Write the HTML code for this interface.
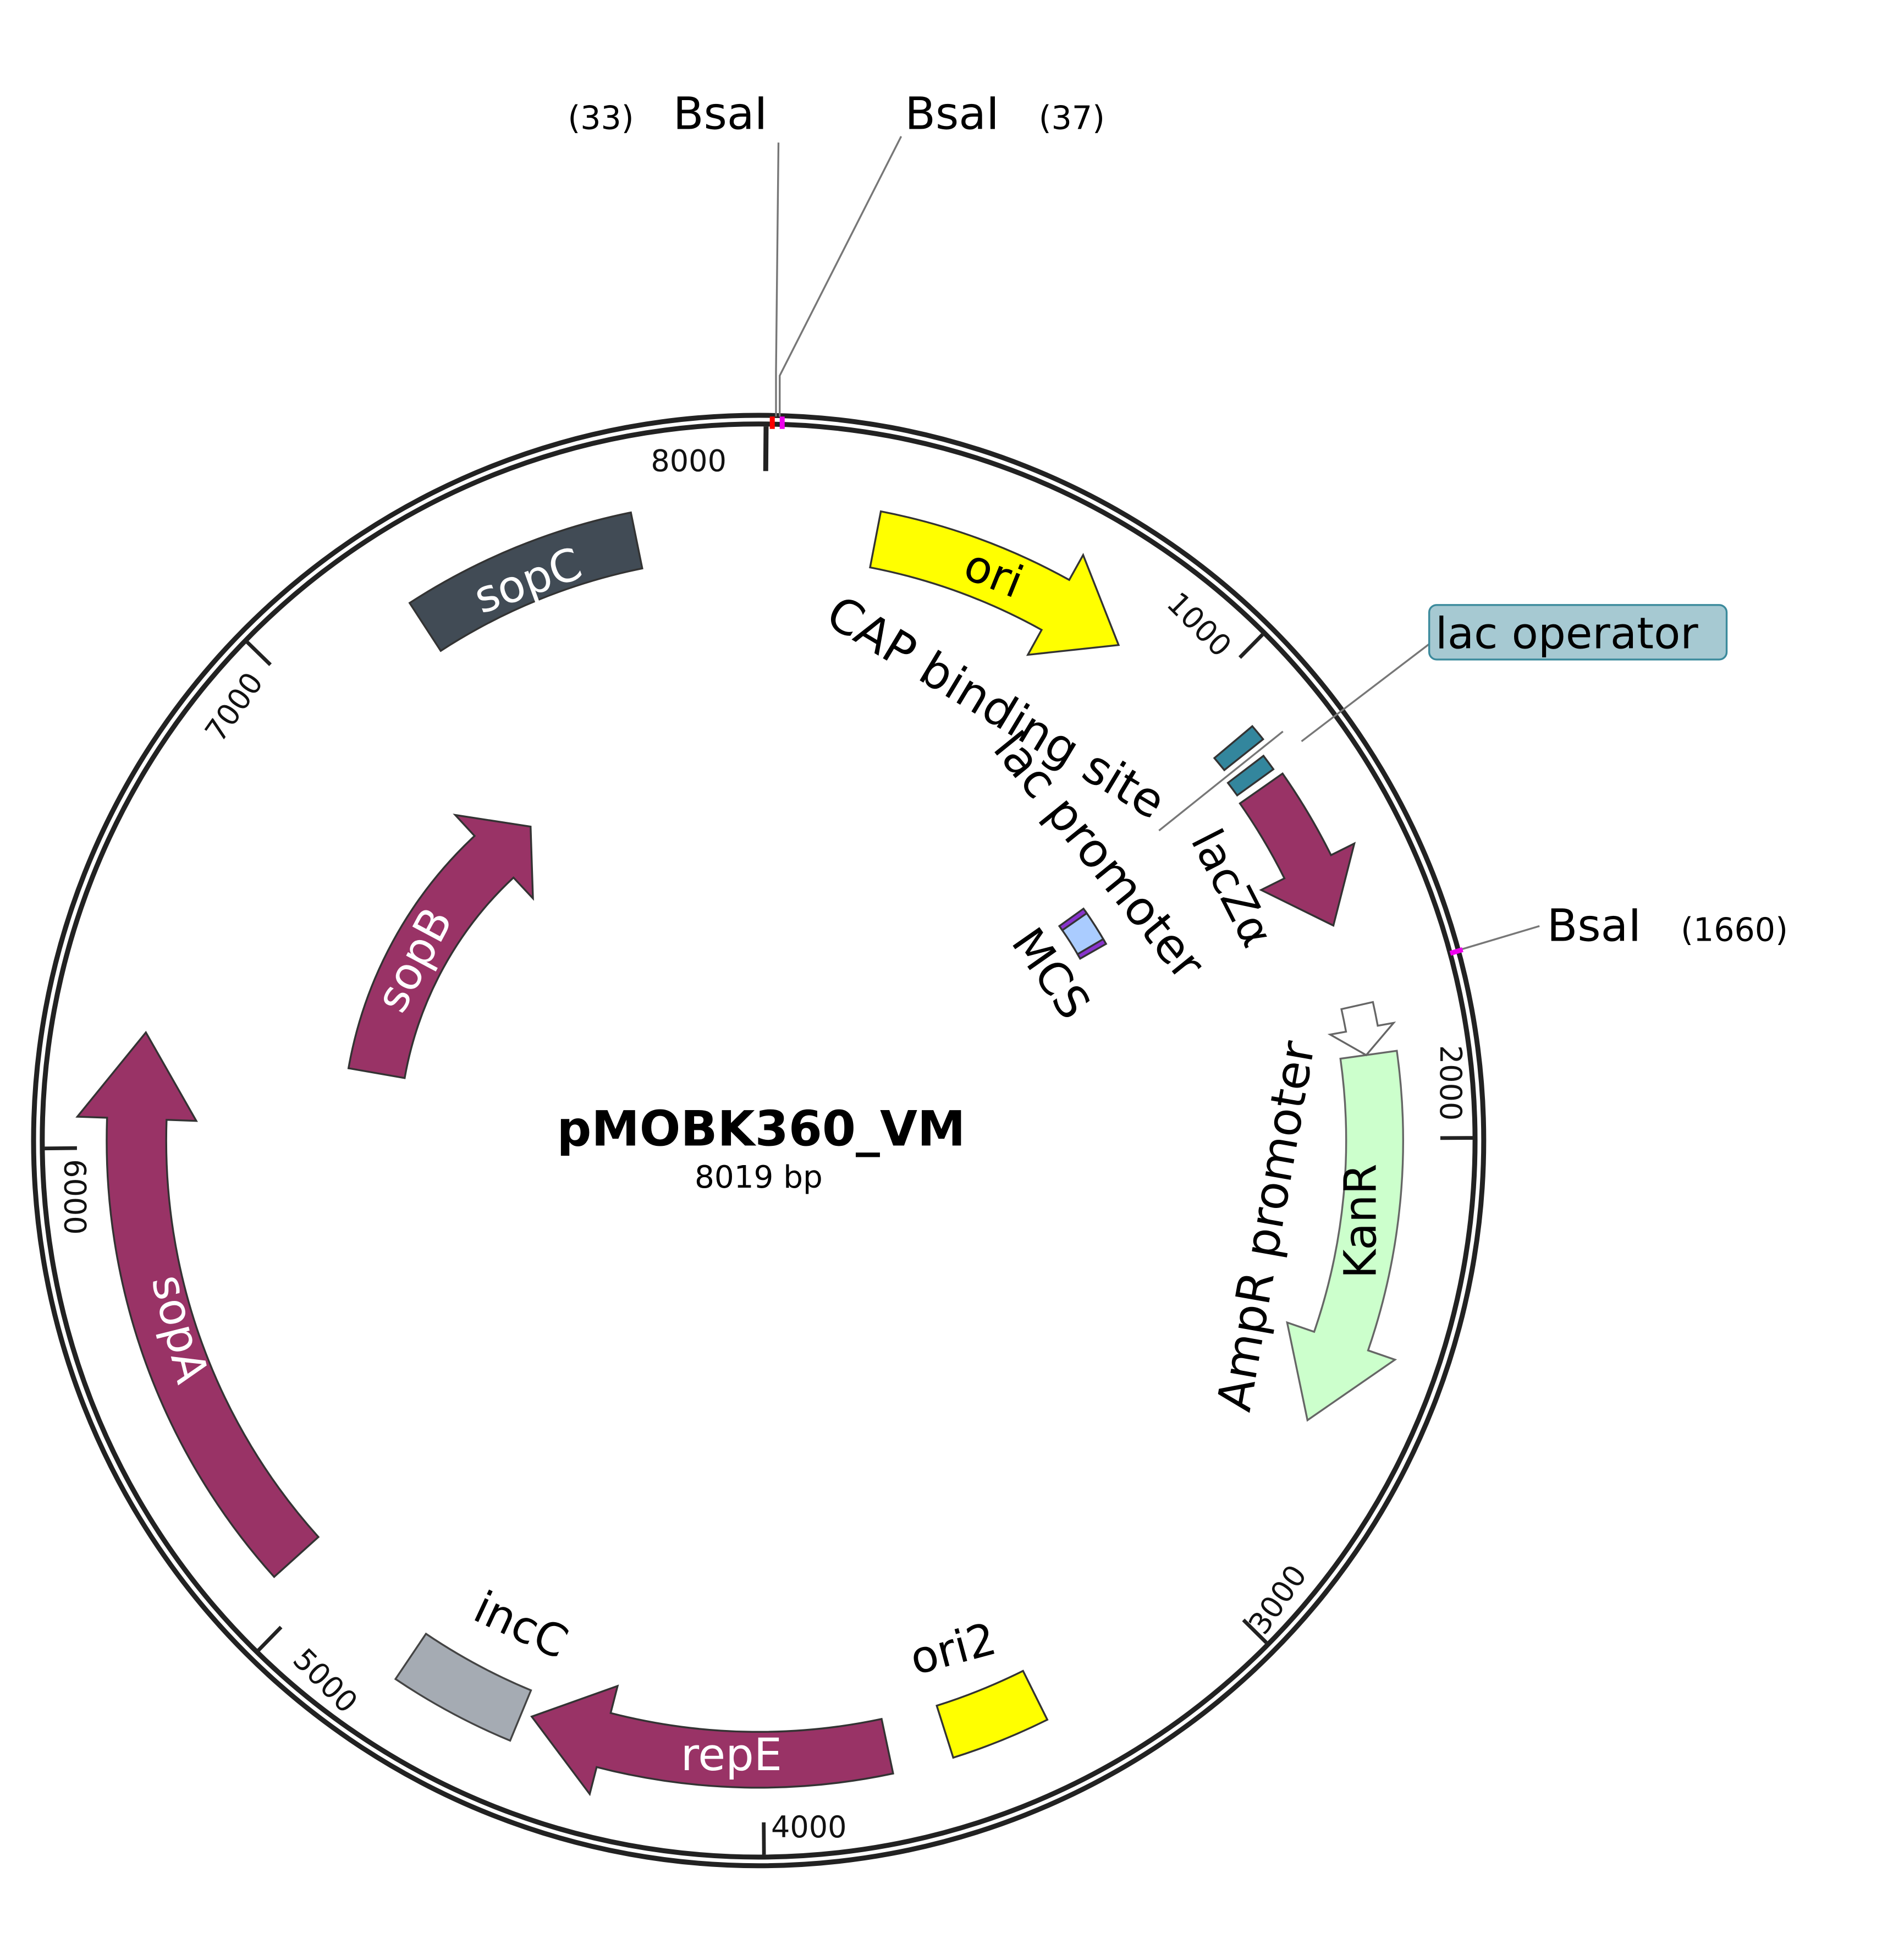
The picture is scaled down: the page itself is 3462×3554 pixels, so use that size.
<!DOCTYPE html>
<html><head><meta charset="utf-8"><style>
html,body{margin:0;padding:0;background:#fff;width:3462px;height:3554px;overflow:hidden}
svg{display:block}
text{font-family:"DejaVu Sans","Liberation Sans",sans-serif;}
</style></head><body>
<svg id="s" width="3462" height="3554" viewBox="0 0 1536 1577" xmlns="http://www.w3.org/2000/svg">
<rect width="1536" height="1577" fill="#fff"/>
<g id="shapes"></g>
<circle cx="612" cy="920" r="585" fill="none" stroke="#222" stroke-width="4"/>
<circle cx="612" cy="920" r="578" fill="none" stroke="#222" stroke-width="4"/>
<g id="ticks" stroke="#222" stroke-width="3"></g>
<g stroke="#777" stroke-width="1.5" fill="none">
<polyline points="626,336 626,300 628,115"/>
<polyline points="629,336 629,303 727,110"/>
<line x1="1175" y1="767" x2="1242" y2="747"/>
<line x1="1050" y1="598" x2="1155" y2="518"/>
<line x1="935" y1="670" x2="1035" y2="590"/>
</g>
<g stroke-width="4">
<line x1="623" y1="336" x2="623" y2="346" stroke="red"/>
<line x1="631" y1="336" x2="631" y2="346" stroke="#e0e"/>
<line x1="1170" y1="769" x2="1180" y2="766" stroke="#e0e"/>
</g>
<g font-size="36" fill="#000">
<text x="543" y="104">BsaI</text>
<text x="730" y="104">BsaI</text>
<text x="1248" y="759">BsaI</text>
</g>
<g font-size="26" fill="#000">
<text x="458" y="104">(33)</text>
<text x="838" y="104">(37)</text>
<text x="1356" y="759">(1660)</text>
</g>
<rect x="1153" y="488" width="240" height="44" rx="6" fill="#a6c9d2" stroke="#3b8a9c" stroke-width="1.5"/>
<text x="1158" y="523" font-size="35">lac operator</text>
<g font-size="24" fill="#111">
<text x="525" y="380">8000</text>
<text x="622" y="1482">4000</text>
<text transform="translate(940,488) rotate(45)">1000</text>
<text transform="translate(1162,843) rotate(90)">2000</text>
<text transform="translate(1020,1320) rotate(-55)">3000</text>
<text transform="translate(235,1340) rotate(45)">5000</text>
<text transform="translate(52,935) rotate(90)">6000</text>
<text transform="translate(178,600) rotate(-55)">7000</text>
</g>
<text x="614" y="924" text-anchor="middle" font-size="39" font-weight="bold">pMOBK360_VM</text>
<text x="612" y="958" text-anchor="middle" font-size="25">8019 bp</text>
<g font-size="36" text-anchor="middle">
<text transform="translate(797,474) rotate(22)">ori</text>
<text transform="translate(430,480) rotate(-20)" fill="#fff">sopC</text>
<text transform="translate(345,780) rotate(-62)" fill="#fff">sopB</text>
<text transform="translate(133,1075) rotate(76)" fill="#fff">sopA</text>
<text x="590" y="1428" fill="#fff">repE</text>
<text transform="translate(1110,985) rotate(-90)">KanR</text>
<text transform="translate(983,722) rotate(63)">lacZα</text>
<text transform="translate(815,760) rotate(55)" text-anchor="start">MCS</text>
<text transform="translate(415,1322) rotate(25)">incC</text>
<text transform="translate(772,1342) rotate(-15)">ori2</text>
</g>
<g font-size="38">
<text transform="translate(664,502) rotate(31)">CAP binding site</text>
<text transform="translate(800,604) rotate(51)">lac promoter</text>
<text transform="translate(1008,1140) rotate(-80)">AmpR promoter</text>
</g>
</svg>
<script>
(function(){
var cx=612,cy=920,NS="http://www.w3.org/2000/svg";
function P(a,r){a=a*Math.PI/180;return [(cx+r*Math.sin(a)).toFixed(1),(cy-r*Math.cos(a)).toFixed(1)];}
function arc(a1,a2,r){var p=P(a2,r);var sw=a2>a1?1:0;var large=Math.abs(a2-a1)>180?1:0;return "A"+r+","+r+" 0 "+large+","+sw+" "+p[0]+","+p[1];}
function feat(a1,a2,r1,r2,head,fill,stroke,hw){
 var d;
 if(!head){d="M"+P(a1,r2)+" "+arc(a1,a2,r2)+" L"+P(a2,r1)+" "+arc(a2,a1,r1)+"Z";}
 else{var dir=a2>a1?1:-1;var b=a2-dir*head;var w=hw!=null?hw:(r2-r1)*0.5;var rm=(r1+r2)/2;
 d="M"+P(a1,r2)+" "+arc(a1,b,r2)+" L"+P(b,r2+w)+" L"+P(a2,rm)+" L"+P(b,r1-w)+" L"+P(b,r1)+" "+arc(b,a1,r1)+"Z";}
 var e=document.createElementNS(NS,"path");e.setAttribute("d",d);e.setAttribute("fill",fill);e.setAttribute("stroke",stroke||"#333");e.setAttribute("stroke-width","1.5");
 document.getElementById("shapes").appendChild(e);}
var M="#993366";
feat(11,36,471,517,7,"#ffff00");
feat(-33,-11.5,471,517,0,"#414b55");
feat(55,69.5,474,516,6,M);
feat(82,117,474,520,8,"#ccffcc","#666");
feat(77.3,82,482,508,2.5,"#fff","#666",13);
feat(153.5,162.5,478,522,0,"#ffff00");
feat(168,201.5,477,522,7,M);
feat(202.5,214,480,524,0,"#a5abb3","#444");
feat(228,280,478,526,8,M);
feat(280,324,290,336,7,M);
feat(50,51.5,480,520,0,"#33869d");
feat(52.7,54.2,476,512,0,"#33869d");
feat(55,60,298,322,0,"#aaccff","#333");
feat(54.5,55.3,298,322,0,"#8833cc","#333");
feat(59.7,60.5,298,322,0,"#8833cc","#333");
var t=document.getElementById("ticks");
for(var i=0;i<8;i++){var a=(i==0)?0.6:i*1000/8019*360;var p1=P(a,576),p2=P(a,(i==0)?540:550);
var l=document.createElementNS(NS,"line");l.setAttribute("x1",p1[0]);l.setAttribute("y1",p1[1]);l.setAttribute("x2",p2[0]);l.setAttribute("y2",p2[1]);if(i==0)l.setAttribute("stroke-width","4");t.appendChild(l);}
})();
</script>
</body></html>
